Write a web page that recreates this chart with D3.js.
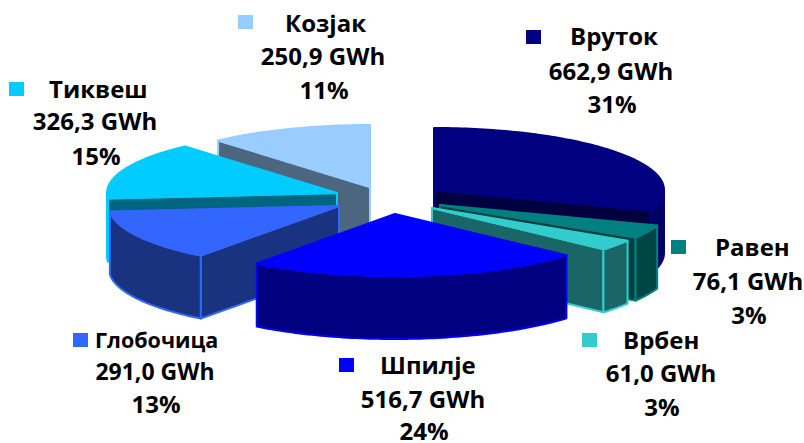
<!DOCTYPE html>
<html><head><meta charset="utf-8">
<script src="https://cdn.jsdelivr.net/npm/d3@7/dist/d3.min.js"></script>
<style>html,body{margin:0;padding:0;background:#fff}svg{display:block}text{font-family:"Open Sans",sans-serif;font-weight:700;fill:#000}</style>
</head><body><svg id="c" width="804" height="443"></svg>
<script>
// Data, clockwise from 12 o'clock
const plants = ["Вруток","Равен","Врбен","Шпилје","Глобочица","Тиквеш","Козјак"];
const gwh = [662.9,76.1,61.0,516.7,291.0,326.3,250.9];
const percents = ["31%","3%","3%","24%","13%","15%","11%"];
// Styles
const topColors  = ["#000080","#008080","#33cccc","#0000ff","#3366ff","#00ccff","#99ccff"];
const wallColors = ["#000040","#004040","#1a6666","#000080","#1a3380","#006680","#4d6680"];
const outerColors= ["#000060","#004545","#1a6666","#000080","#1a3380","#006680","#4d6680"];
const edgeColors = ["#000080","#008080","#33cccc","#0000ff","#3366ff","#00ccff","#99ccff"];
// Layout
const apexX = [434,440,432,395,339,337,370];
const apexY = [190,205,208,214,206,193,187];
const drawOrder = [6,5,4,0,1,2,3];
const RX=230, RY=62, DEPTH=63;
const labelKeyX = [526,671,582,339,73,9,238];
const labelKeyY = [30,240,333,358,333,82,15];
const nameX = [570,715,623,380,95,49,285];
const nameY = [45,256,349,374,348,98,32];
const valueCX = [611,748,661,423,155,95,323];
const valueY = [80,290,382,408,380,130,65];
const pctY = [113,324,416,440,413,165,99];
const nameSize = [24,24,24,24,21.5,24,24];
const valueSize = [24,24,24,24,23,24,24];

const sx=d3.scaleLinear().domain([-1,1]).range([-RX,RX]);
const sy=d3.scaleLinear().domain([-1,1]).range([-RY,RY]);
const arcs=d3.pie().sort(null).value(d=>d)(gwh);
const line=d3.line();
const pt=(i,a,dz=0)=>[apexX[i]+sx(Math.sin(a)),apexY[i]+sy(-Math.cos(a))+dz];
const samples=(a0,a1)=>{const n=Math.max(2,Math.ceil((a1-a0)/0.02));return d3.range(n+1).map(k=>a0+(a1-a0)*k/n);};
const svg=d3.select("#c");
const g=svg.append("g");
const shape=(pts,fill,stroke)=>g.append("path").attr("d",line(pts)+"Z").attr("fill",fill)
  .attr("stroke",stroke).attr("stroke-width",2).attr("stroke-linejoin","round");

drawOrder.forEach(i=>{
  const a0=arcs[i].startAngle,a1=arcs[i].endAngle;
  const apex=[apexX[i],apexY[i]],apexB=[apexX[i],apexY[i]+DEPTH];
  const wall=(a)=>shape([apex,pt(i,a),pt(i,a,DEPTH),apexB],wallColors[i],edgeColors[i]);
  if(Math.cos(a0-Math.PI/2)<0) wall(a0);
  if(Math.cos(a1+Math.PI/2)<0) wall(a1);
  const f0=Math.max(a0,Math.PI/2),f1=Math.min(a1,1.5*Math.PI);
  if(f1>f0){
    const ss=samples(f0,f1);
    shape(ss.map(a=>pt(i,a)).concat(ss.slice().reverse().map(a=>pt(i,a,DEPTH))),outerColors[i],edgeColors[i]);
  }
  shape([apex].concat(samples(a0,a1).map(a=>pt(i,a))),topColors[i],topColors[i]);
});

const fmt=d3.formatLocale({decimal:",",thousands:".",grouping:[3],currency:["",""]}).format(".1f");
plants.forEach((p,i)=>{
  svg.append("rect").attr("x",labelKeyX[i]).attr("y",labelKeyY[i]).attr("width",15).attr("height",14).attr("fill",topColors[i]);
  svg.append("text").attr("x",nameX[i]).attr("y",nameY[i]).attr("font-size",nameSize[i]).text(p);
  svg.append("text").attr("x",valueCX[i]).attr("y",valueY[i]).attr("text-anchor","middle").attr("font-size",valueSize[i]).text(fmt(gwh[i])+" GWh");
  svg.append("text").attr("x",valueCX[i]+1).attr("y",pctY[i]).attr("text-anchor","middle").attr("font-size",24).text(percents[i]);
});
</script></body></html>
